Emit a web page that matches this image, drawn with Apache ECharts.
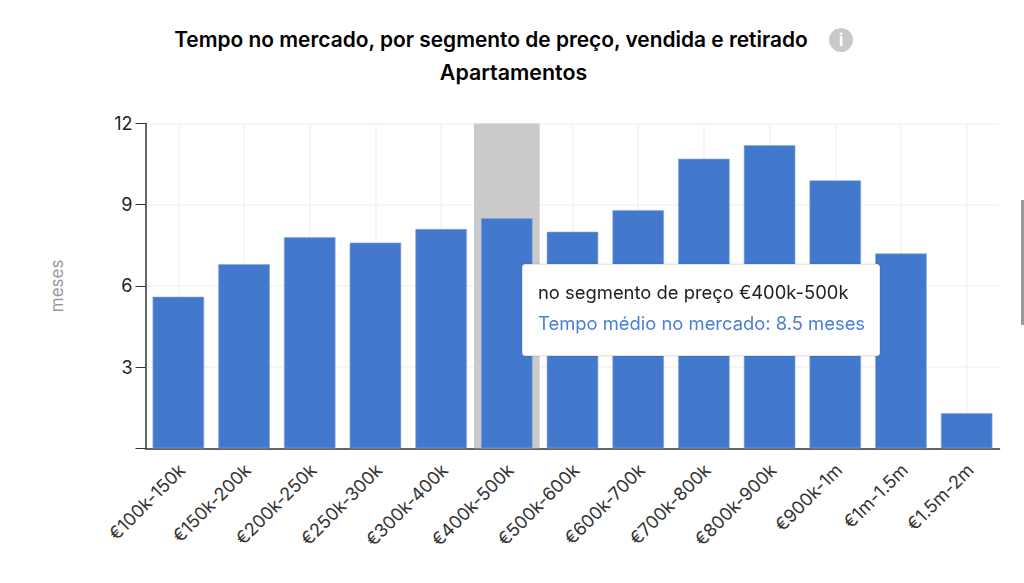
<!DOCTYPE html>
<html><head><meta charset="utf-8">
<style>html,body{margin:0;padding:0;background:#fff}#c{width:1024px;height:583px}</style>
<script src="https://cdn.jsdelivr.net/npm/echarts@6/dist/echarts.min.js"></script>
</head><body><div id="c"></div>
<script>
const categories=['€100k-150k','€150k-200k','€200k-250k','€250k-300k','€300k-400k','€400k-500k','€500k-600k','€600k-700k','€700k-800k','€800k-900k','€900k-1m','€1m-1.5m','€1.5m-2m'];
const months=[5.6,6.8,7.8,7.6,8.1,8.5,8.0,8.8,10.7,11.2,9.9,7.2,1.3];
const yTicks=[3,6,9,12];
const titleLines=['Tempo no mercado, por segmento de preço, vendida e retirado','Apartamentos'];
const yName='meses';
const activeIndex=5;
const font='Inter, "Noto Sans", sans-serif';
const chart=echarts.init(document.getElementById('c'),null,{renderer:'svg'});
chart.setOption({
 animation:false,
 backgroundColor:'#fff',
 grid:{left:145.5,right:24.5,top:123.5,bottom:134.7,containLabel:false},
 xAxis:{type:'category',data:categories,boundaryGap:true,
  axisLine:{onZero:true,lineStyle:{color:'#333',width:1.5}},
  axisTick:{alignWithLabel:true,length:8,lineStyle:{color:'#333',width:1}},
  axisLabel:{rotate:45,interval:0,margin:15,verticalAlign:'top',lineHeight:10,fontSize:18,color:'#333',fontFamily:font},
  splitLine:{show:true,alignWithLabel:true,lineStyle:{color:'#f3f3f3',width:1.5}}},
 yAxis:{type:'value',min:0,max:12,interval:3,name:yName,nameLocation:'middle',nameGap:80,
  nameTextStyle:{fontSize:17,color:'#999',fontFamily:font},
  axisLine:{show:true,lineStyle:{color:'#333',width:1.5}},
  axisTick:{show:true,length:10,lineStyle:{color:'#333',width:1}},
  axisLabel:{margin:13,fontSize:18,color:'#222',fontFamily:font,
   formatter:v=>yTicks.includes(v)?String(v):''},
  splitLine:{show:true,lineStyle:{color:'#f3f3f3',width:1.5}}},
 tooltip:{trigger:'axis',alwaysShowContent:true,transitionDuration:0,
  axisPointer:{type:'shadow',z:1,shadowStyle:{color:'#cacaca',opacity:1}},
  position:[522,264],padding:[12,15,16,15],
  backgroundColor:'#fff',borderColor:'#e4e4e4',borderWidth:1,
  extraCssText:'border-radius:3px;box-shadow:0 0 3px rgba(0,0,0,.12);width:326px;height:62px;box-sizing:content-box;',
  formatter:(p)=>`<div style="font:18.4px/31px ${font.replace(/"/g,"'")};color:#222;white-space:nowrap">no segmento de preço ${p[0].name}</div>`+
   `<div style="font:18.4px/31px ${font.replace(/"/g,"'")};color:#4a7fd6;white-space:nowrap">Tempo médio no mercado: ${p[0].value} ${yName}</div>`},
 series:[{type:'bar',z:10,data:months,barWidth:51.5,
  itemStyle:{color:'#4279cd',borderColor:'#86a8e0',borderWidth:0.6},
  emphasis:{disabled:true}}],
 graphic:[
  {type:'text',style:{x:491,y:39,text:titleLines[0],align:'center',verticalAlign:'middle',fontSize:20.9,fontWeight:600,fill:'#000',fontFamily:font}},
  {type:'text',style:{x:513.5,y:72,text:titleLines[1],align:'center',verticalAlign:'middle',fontSize:21.4,fontWeight:600,fill:'#000',fontFamily:font}},
  {type:'circle',shape:{cx:841,cy:40,r:12},style:{fill:'#c9c9c9'}},
  {type:'text',style:{x:841,y:40,text:'i',align:'center',verticalAlign:'middle',fontSize:17,fontWeight:700,fill:'#fff',fontFamily:font}},
  {type:'rect',shape:{x:1021,y:200,width:3,height:125},style:{fill:'#9a9a9a'}}
 ]
});
chart.dispatchAction({type:'showTip',seriesIndex:0,dataIndex:activeIndex});
</script></body></html>
